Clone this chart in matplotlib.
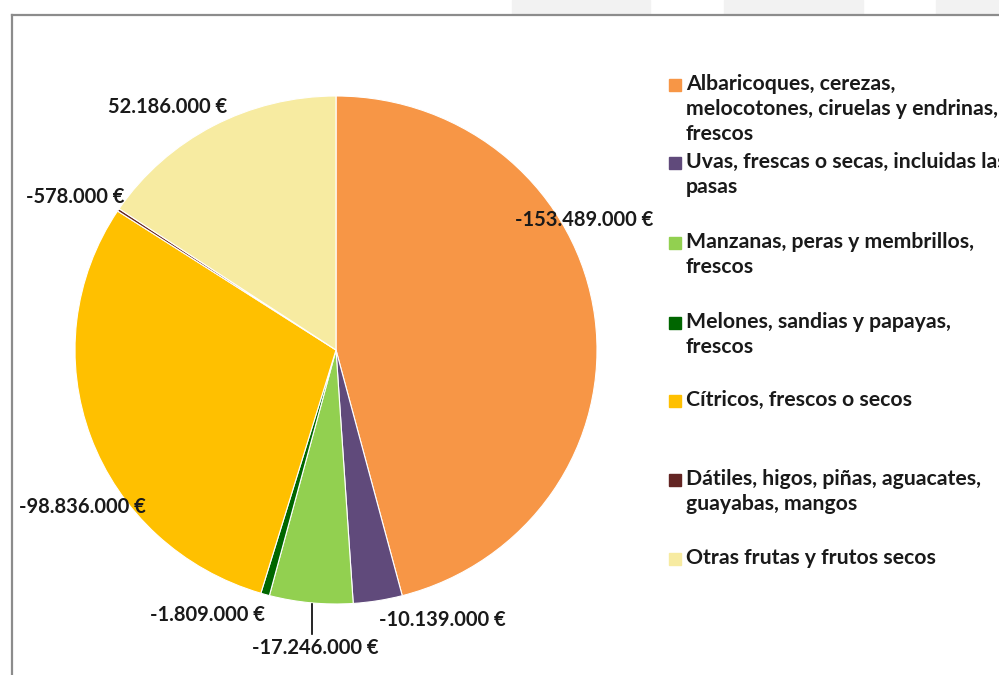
import matplotlib.pyplot as plt
from matplotlib.patches import Rectangle

# ----------------- Data -------------------------------------------------
categories = [
    "Albaricoques, cerezas,\nmelocotones, ciruelas y endrinas,\nfrescos",
    "Uvas, frescas o secas, incluidas las\npasas",
    "Manzanas, peras y membrillos,\nfrescos",
    "Melones, sandias y papayas,\nfrescos",
    "Cítricos, frescos o secos",
    "Dátiles, higos, piñas, aguacates,\nguayabas, mangos",
    "Otras frutas y frutos secos",
]
values = [-153489000, -10139000, -17246000, -1809000, -98836000, -578000, 52186000]
colors = ["#F79646", "#604A7B", "#92D050", "#006600", "#FFC000", "#632523", "#F7EBA1"]

# label positions in pixels (centre of text), from top-left of the image
label_px = [(584, 220), (442, 620), (315, 648), (208, 615), (82, 507), (75, 197), (168, 107)]
legend_y = [85, 163, 243, 323, 401, 480, 559]

W, H = 999, 675
FONT = "Lato"


def fmt(v):
    s = f"{abs(v):,}".replace(",", ".")
    return ("-" if v < 0 else "") + s + " €"


fig = plt.figure(figsize=(W / 100, H / 100), dpi=100)

# background spreadsheet cells at the top right
for x0, x1 in [(512, 650), (724, 863), (936, 999)]:
    fig.patches.append(Rectangle((x0 / W, 1 - 14 / H), (x1 - x0) / W, 14 / H,
                                 transform=fig.transFigure, color="#f2f2f2", zorder=0))
# chart frame
fig.add_artist(plt.Line2D([12 / W, 1], [1 - 15 / H] * 2, color="#8c8c8c", lw=1.6))
fig.add_artist(plt.Line2D([12 / W] * 2, [0, 1 - 15 / H], color="#8c8c8c", lw=1.6))

# ----------------- Pie --------------------------------------------------
# the source image is slightly squashed vertically
cx, cy, rx, ry = 336, 350, 261, 254
ax = fig.add_axes([(cx - rx) / W, (H - cy - ry) / H, 2 * rx / W, 2 * ry / H])
ax.pie([abs(v) for v in values], colors=colors, startangle=90, counterclock=False,
       radius=1, wedgeprops={"edgecolor": "white", "linewidth": 0.8})
ax.set_xlim(-1, 1)
ax.set_ylim(-1, 1)
ax.set_aspect("auto")
ax.axis("off")

for v, (px, py) in zip(values, label_px):
    fig.text(px / W, 1 - py / H, fmt(v), ha="center", va="center",
             fontsize=14.5, family=FONT, fontweight="bold", color="#1a1a1a")

# leader line for the small green slice
fig.add_artist(plt.Line2D([312 / W] * 2, [1 - 604 / H, 1 - 634 / H], color="black", lw=1.2))

# ----------------- Legend -----------------------------------------------
for lab, col, y in zip(categories, colors, legend_y):
    fig.patches.append(Rectangle((669 / W, 1 - (y + 6) / H), 12 / W, 12 / H,
                                 transform=fig.transFigure, color=col))
    fig.text(686 / W, 1 - (y - 11) / H, lab, ha="left", va="top", fontsize=15.3,
             family=FONT, fontweight="bold", color="#1a1a1a", linespacing=1.32)

fig.savefig("out.png", dpi=100)
